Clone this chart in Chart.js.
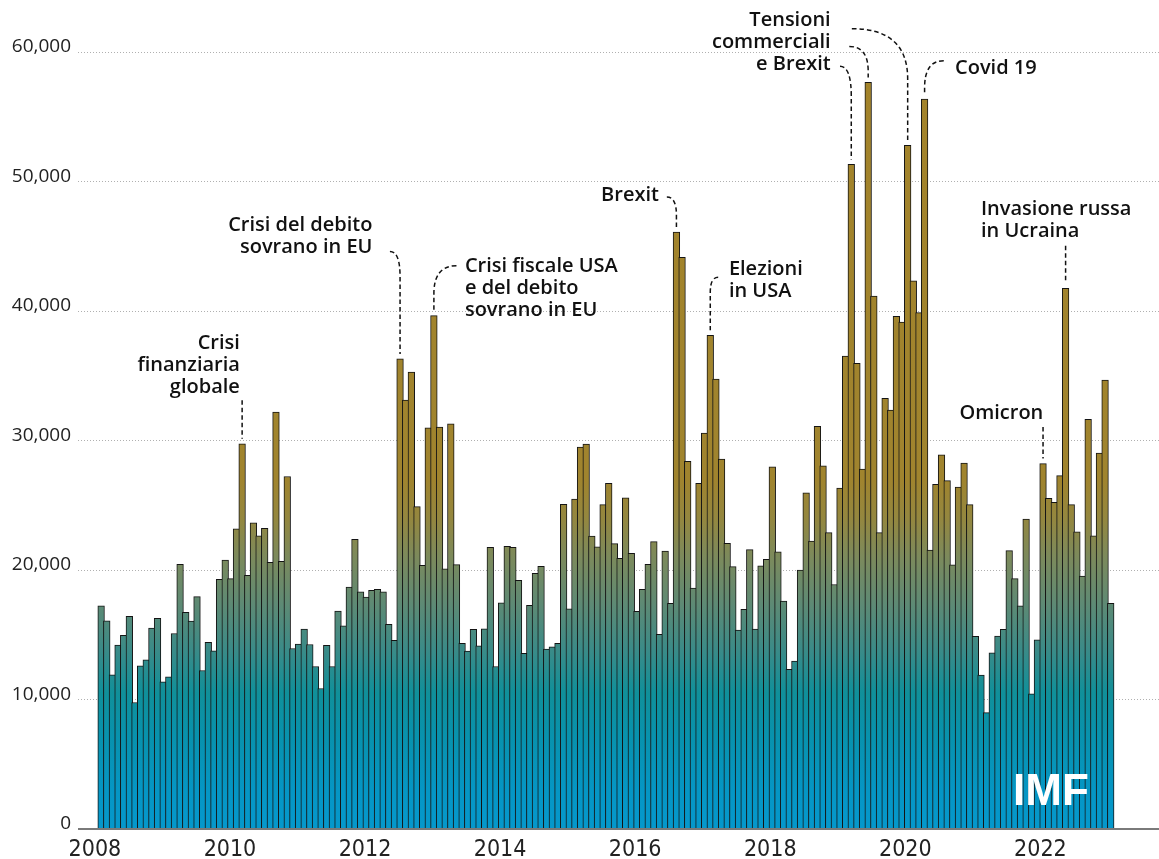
<!DOCTYPE html>
<html>
<head>
<meta charset="utf-8">
<script src="https://cdn.jsdelivr.net/npm/chart.js@4.4.1/dist/chart.umd.min.js"></script>
<style>
  html, body { margin: 0; padding: 0; background: #ffffff; }
  #wrap { width: 1159px; height: 859px; position: relative; }
</style>
</head>
<body>
<div id="wrap"><canvas id="chart"></canvas></div>
<script>
// Monthly index values, January 2008 to December 2022
const startYear = 2008;
const uncertainty = [
  17240, 16080, 11900, 14200, 14950, 16420, 9770, 12600, 13060, 15510, 16260, 11360,
  11750, 15100, 20440, 16730, 16060, 17940, 12240, 14410, 13760, 19280, 20770, 19330,
  23170, 29740, 19590, 23640, 22630, 23220, 20600, 32190, 20670, 27220, 13940, 14280,
  15440, 14250, 12550, 10850, 14180, 12550, 16830, 15690, 18690, 22370, 18320, 17910,
  18430, 18510, 18320, 15800, 14560, 36300, 33120, 35290, 24900, 20360, 30980, 39640,
  31030, 20100, 31290, 20410, 14330, 13740, 15410, 14150, 15460, 21760, 12550, 17470,
  21830, 21760, 19200, 13560, 17270, 19740, 20290, 13890, 14070, 14330, 25080, 17010,
  25470, 29490, 29720, 22610, 21780, 25050, 26700, 22040, 20900, 25570, 21290, 16800,
  18510, 20440, 22190, 15030, 21470, 17420, 46090, 44150, 28400, 18610, 26700, 30570,
  38120, 34750, 28560, 22060, 20260, 15360, 16960, 21570, 15440, 20330, 20830, 27970,
  21400, 17600, 12330, 12970, 20000, 25950, 22240, 31090, 28050, 22880, 18880, 26330,
  36520, 51320, 35950, 27800, 57650, 41160, 22880, 33260, 32340, 39590, 39140, 52790,
  42330, 39880, 56370, 21530, 26610, 28890, 26900, 20390, 26400, 28250, 25050, 14870,
  11880, 8990, 13610, 14900, 15410, 21490, 19330, 17240, 23940, 10430, 14610, 28220,
  25540, 25230, 27290, 41760, 25050, 22940, 19540, 31630, 22630, 29030, 34670, 17420
];
const monthLabels = uncertainty.map((_, i) =>
  (startYear + Math.floor(i / 12)) + '-' + String(i % 12 + 1).padStart(2, '0'));
const yearTicks = [2008, 2010, 2012, 2014, 2016, 2018, 2020, 2022];
const valueTicks = [0, 10000, 20000, 30000, 40000, 50000, 60000];

// Event notes: text anchor and dashed leader start, both in axis units (month index, value)
const annotations = [
  { lines: ['Crisi', 'finanziaria', 'globale'], align: 'right', at: [24.6, 37100],
    links: [{ bar: 25, from: [25, 33100] }] },
  { lines: ['Crisi del debito', 'sovrano in EU'], align: 'right', at: [48.1, 46200],
    links: [{ bar: 53, from: [51.2, 44600], bend: 25 }] },
  { lines: ['Crisi fiscale USA', 'e del debito', 'sovrano in EU'], align: 'left', at: [64.5, 43000],
    links: [{ bar: 59, from: [63.0, 43500], bend: 28 }] },
  { lines: ['Brexit'], align: 'right', at: [98.9, 48500],
    links: [{ bar: 102, from: [100.3, 48800], bend: 18 }] },
  { lines: ['Elezioni', 'in USA'], align: 'left', at: [111.3, 42800],
    links: [{ bar: 108, from: [109.4, 42600], bend: 15 }] },
  { lines: ['Tensioni', 'commerciali', 'e Brexit'], align: 'right', at: [129.35, 62000],
    links: [
      { bar: 143, from: [133.1, 61800], bend: 50 },
      { bar: 136, from: [132.65, 60430], bend: 25 },
      { bar: 133, from: [131.0, 58900], bend: 30 }
    ] },
  { lines: ['Covid 19'], align: 'left', at: [151.4, 58300],
    links: [{ bar: 146, from: [149.4, 59330], bend: 27 }] },
  { lines: ['Omicron'], align: 'right', at: [167.05, 31650],
    links: [{ bar: 167, from: [167, 31050] }] },
  { lines: ['Invasione russa', 'in Ucraina'], align: 'left', at: [156.0, 47430],
    links: [{ bar: 171, from: [171, 45030] }] }
];

// Vertical colour ramp for the bars, keyed by value
const rampTop = 60000;
const colorRamp = [
  [0, '#0598cc'], [3000, '#0596c4'], [7200, '#0892ad'], [10500, '#10909a'],
  [13800, '#3a8b88'], [17400, '#5e8a74'], [21000, '#7c8a5c'], [24000, '#94873f'],
  [27000, '#a0842e'], [60000, '#a3832a']
];

let rampCache = null;
function barFill(context) {
  const chart = context.chart;
  if (!chart.chartArea) return '#0596c8';
  const y = chart.scales.y;
  const y0 = y.getPixelForValue(0), y1 = y.getPixelForValue(rampTop);
  const key = y0 + '|' + y1;
  if (!rampCache || rampCache.key !== key) {
    const g = chart.ctx.createLinearGradient(0, y0, 0, y1);
    colorRamp.forEach(([v, c]) => g.addColorStop(v / rampTop, c));
    rampCache = { key, g };
  }
  return rampCache.g;
}

const notesPlugin = {
  id: 'notes',
  afterDatasetsDraw(chart) {
    const { ctx, chartArea, scales: { x, y } } = chart;
    ctx.save();
    annotations.forEach(a => {
      ctx.font = '600 20px "Open Sans", "Noto Sans", sans-serif';
      ctx.fillStyle = '#111111';
      ctx.textAlign = a.align;
      ctx.textBaseline = 'alphabetic';
      const tx = x.getPixelForValue(a.at[0]);
      const ty = y.getPixelForValue(a.at[1]);
      a.lines.forEach((line, i) => ctx.fillText(line, tx, ty + i * 22));
      a.links.forEach(k => {
        const bx = x.getPixelForValue(k.bar);
        const by = y.getPixelForValue(uncertainty[k.bar]) - 5;
        const sx = x.getPixelForValue(k.from[0]);
        const sy = y.getPixelForValue(k.from[1]);
        ctx.beginPath();
        ctx.setLineDash([4.5, 3]);
        ctx.lineWidth = 1.5;
        ctx.strokeStyle = '#111111';
        ctx.moveTo(sx, sy);
        if (Math.abs(sx - bx) > 1) ctx.quadraticCurveTo(bx, sy, bx, sy + k.bend);
        ctx.lineTo(bx, by);
        ctx.stroke();
      });
    });
    ctx.setLineDash([]);
    ctx.font = 'bold 44px "Liberation Sans", Arial, sans-serif';
    ctx.fillStyle = '#ffffff';
    ctx.textAlign = 'left';
    ctx.textBaseline = 'alphabetic';
    ctx.fillText('IMF', chartArea.right - 146, chartArea.bottom - 24);
    ctx.restore();
  }
};

function build() {
  new Chart(document.getElementById('chart'), {
    type: 'bar',
    data: {
      datasets: [{
        label: 'Indice',
        data: uncertainty.map((v, i) => ({ x: i, y: v, m: monthLabels[i] })),
        backgroundColor: barFill,
        borderColor: '#141414',
        borderWidth: 1,
        barThickness: 6.64,
        xAxisID: 'x',
        yAxisID: 'y'
      }]
    },
    options: {
      responsive: true,
      maintainAspectRatio: false,
      animation: false,
      locale: 'en-US',
      layout: { padding: { top: 52, right: 0, bottom: 0, left: 0 } },
      plugins: { legend: { display: false }, tooltip: { enabled: false } },
      scales: {
        x: {
          type: 'linear',
          display: false,
          offset: false,
          bounds: 'data',
          min: -4.1,
          max: 187.56
        },
        years: {
          type: 'linear',
          position: 'bottom',
          offset: false,
          bounds: 'data',
          min: 2007.75,
          max: 2023.756,
          grid: { display: false, drawTicks: false, offset: false },
          border: { display: false },
          afterBuildTicks: s => { s.ticks = yearTicks.map(v => ({ value: v })); },
          afterFit: s => { s.height = 30; },
          ticks: {
            autoSkip: false,
            maxRotation: 0,
            padding: 7,
            color: '#222222',
            font: { family: '"Liberation Sans Narrow", "DejaVu Sans Condensed", sans-serif', size: 23 },
            callback: v => String(v)
          }
        },
        y: {
          type: 'linear',
          min: 0,
          max: 60000,
          bounds: 'data',
          afterBuildTicks: s => { s.ticks = valueTicks.map(v => ({ value: v })); },
          afterFit: s => { s.width = 78; },
          grid: {
            drawTicks: false,
            color: c => c.tick && c.tick.value === 0 ? '#7a7a7a' : '#b0b0b0',
            lineWidth: c => c.tick && c.tick.value === 0 ? 2 : 1
          },
          border: {
            display: false,
            dash: c => c.tick && c.tick.value === 0 ? [] : [1, 2]
          },
          ticks: {
            padding: 7,
            labelOffset: -5,
            color: '#222222',
            font: { family: '"Open Sans", "Noto Sans", sans-serif', size: 19 },
            callback: v => v.toLocaleString('en-US')
          }
        }
      }
    },
    plugins: [notesPlugin]
  });
}

const fontLoads = [
  '600 20px "Open Sans"', '19px "Open Sans"', '23px "Liberation Sans Narrow"',
  'bold 44px "Liberation Sans"'
].map(f => document.fonts.load(f).catch(() => null));
Promise.all(fontLoads).then(build, build);
</script>
</body>
</html>
